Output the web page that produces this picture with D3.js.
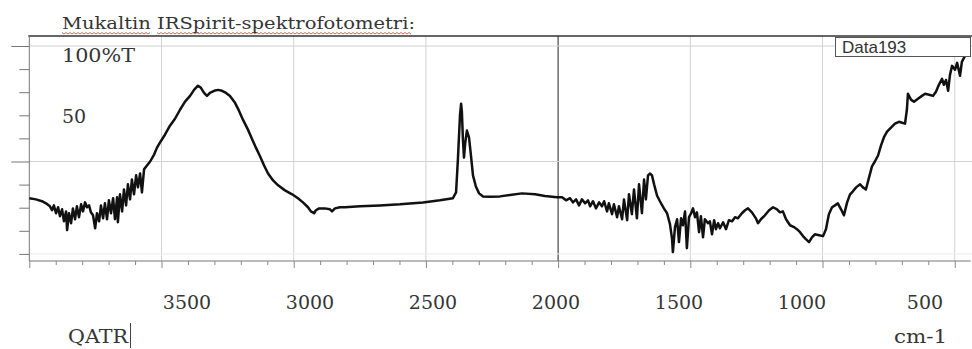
<!DOCTYPE html>
<html>
<head>
<meta charset="utf-8">
<script src="https://cdn.jsdelivr.net/npm/d3@7"></script>
<style>
  body { margin: 0; background: #fff; }
  svg { display: block; }
</style>
</head>
<body>
<svg id="chart" width="972" height="349"></svg>
<script>
// spectrum (cm-1 / %T)
const wavenumber = [
  4000,3975,3952,3937,3922,3914,3907,3899,3891,3884,3876,3869,3861,3857,3850,3842,3835,3827,3820,3812,
  3804,3797,3789,3782,3774,3767,3759,3751,3744,3736,3729,3721,3714,3706,3699,3691,3683,3676,3668,3665,
  3657,3649,3642,3634,3627,3619,3612,3604,3596,3589,3581,3574,3566,3555,3543,3528,3517,3506,3487,3468,
  3449,3430,3411,3392,3377,3362,3351,3339,3328,3317,3301,3286,3271,3256,3241,3222,3207,3192,3173,3158,
  3143,3127,3112,3097,3078,3059,3033,3006,2984,2965,2946,2935,2923,2916,2904,2882,2863,2855,2844,2825,
  2806,2749,2674,2598,2511,2447,2398,2386,2379,2371,2367,2364,2360,2356,2352,2345,2337,2330,2322,2311,
  2299,2284,2258,2220,2182,2137,2087,2050,2004,
  1985,1970,1955,1944,1932,1921,1910,1898,1887,1879,1868,1857,1845,1834,1826,1815,1808,1796,1789,1777,
  1770,1758,1751,1739,1732,1721,1713,1702,1694,1683,1675,1668,1660,1652,1645,1637,1626,1615,1600,1588,
  1577,1569,1566,1558,1550,1543,1535,1528,1520,1513,1505,1497,1490,1482,1475,1467,1460,1452,1445,1433,
  1426,1418,1410,1403,1395,1388,1376,1365,1354,1342,1331,1320,1305,1293,1282,1267,1252,1244,1233,1218,
  1202,1187,1172,1161,1150,1138,1123,1108,1097,1085,1074,1063,1051,1040,1029,1013,998,987,976,964,
  953,942,930,919,907,896,885,873,858,847,836,824,813,802,790,779,768,756,741,726,
  711,699,688,681,677,665,654,639,624,612,597,582,571,560,548,541,533,525,518,510,
  499,491,480,473,461,450,442
];
const transmittance = [
  34.1,33.6,32.8,31.9,30.6,28.9,31.0,27.6,30.2,26.3,29.3,24.1,28.4,20.3,27.6,23.3,29.7,25.0,30.6,25.9,
  31.5,28.4,32.3,30.2,31.0,28.0,26.7,21.1,27.6,24.1,31.0,25.4,31.9,25.0,33.2,27.6,34.1,25.0,34.5,23.7,
  35.8,28.4,37.9,31.0,40.1,33.6,42.2,35.8,44.0,38.8,44.8,36.6,46.6,48.3,50.0,53.0,56.0,58.2,61.6,65.5,
  68.5,72.4,75.9,78.4,81.0,82.8,81.9,79.7,78.4,79.7,80.6,81.0,80.6,79.7,78.4,75.4,72.0,68.1,63.8,59.9,
  56.0,52.2,48.3,44.8,41.8,39.7,37.5,35.8,34.1,32.3,30.2,28.4,27.6,28.9,29.7,29.7,29.3,28.4,29.7,30.2,
  30.2,30.6,31.0,31.5,32.3,33.2,34.1,36.6,50.9,70.3,75.0,71.6,59.5,51.7,57.3,63.4,60.4,53.0,44.0,39.2,
  36.2,34.9,34.7,34.9,35.5,36.2,35.8,35.1,34.5,
  34.5,33.2,34.1,32.3,33.6,31.0,33.6,31.9,33.2,30.6,32.8,29.7,32.3,30.6,32.8,28.4,31.9,27.2,31.5,25.9,
  30.6,25.0,33.6,24.6,35.8,27.2,37.9,25.4,40.1,27.6,42.2,33.6,44.0,44.8,44.0,40.1,35.3,32.8,29.7,27.6,
  22.9,16.4,10.8,21.6,25.0,15.1,25.4,22.4,28.4,12.5,25.9,27.6,29.7,25.9,28.0,19.4,26.3,17.2,25.0,23.3,
  24.1,18.5,24.6,20.7,23.3,21.1,23.7,20.7,24.6,24.1,25.9,25.4,27.6,28.9,29.7,28.0,25.4,23.3,25.0,26.7,
  28.9,30.2,29.3,28.0,28.4,25.0,22.4,21.6,20.7,19.4,17.7,16.4,15.1,17.2,18.5,18.1,17.7,20.7,27.2,30.2,
  31.0,31.9,29.3,26.7,32.3,35.8,37.1,38.8,40.1,38.8,37.9,43.1,47.9,50.0,52.6,56.9,60.4,62.9,64.7,66.4,
  67.2,66.8,66.4,72.4,79.3,76.7,75.9,77.2,78.4,79.3,78.9,78.4,80.2,83.2,85.8,83.2,85.3,80.6,87.5,91.4,
  89.7,92.7,87.1,93.1,95.7,97.0,97.8
];
const tickLabels = [3500, 3000, 2500, 2000, 1500, 1000, 500];
const gridWavenumbers = [3500, 3000, 2500, 2000, 1500, 1000, 500];
const gridPercent = [100, 50, 10];
const seriesName = 'Data193';
const title = 'Mukaltin IRSpirit-spektrofotometri:';

const spectrum = wavenumber.map((w, i) => ({ w, t: transmittance[i] }));

const svg = d3.select('#chart');
const area = { left: 29.3, right: 970.6, top: 36, bottom: 261 };

const x = d3.scaleLinear().domain([4000, 440]).range([area.left, area.right]);
const y = d3.scaleLinear().domain([0, 100]).range([277, 46]);
const labelX = d3.scalePoint().domain(tickLabels).range([187, 925]);

const serif = 'DejaVu Serif, Liberation Serif, serif';
const textColor = '#353535';

// grid
svg.append('g')
  .selectAll('line')
  .data(gridWavenumbers)
  .enter()
  .append('line')
  .attr('x1', d => x(d)).attr('x2', d => x(d))
  .attr('y1', area.top).attr('y2', area.bottom)
  .attr('stroke', d => d === 2000 ? '#555' : '#d2d2d2')
  .attr('stroke-width', d => d === 2000 ? 1.3 : 1)
  ;

svg.append('g')
  .selectAll('line')
  .data(gridPercent)
  .enter()
  .append('line')
  .attr('x1', area.left).attr('x2', 972)
  .attr('y1', d => y(d)).attr('y2', d => y(d))
  .attr('stroke', d => d === 10 ? '#ececec' : '#d2d2d2')
  ;

// frame top
svg.append('line')
  .attr('x1', area.left - 1).attr('x2', 972)
  .attr('y1', area.top).attr('y2', area.top)
  .attr('stroke', '#333').attr('stroke-width', 1.6);

// left axis
const yAxis = d3.axisLeft(y)
  .tickValues(d3.range(10, 101, 10))
  .tickSize(10)
  .tickFormat('');
const gy = svg.append('g')
  .attr('transform', `translate(${area.left},0)`)
  .call(yAxis);
gy.select('.domain').remove();
gy.selectAll('.tick line')
  .attr('stroke', '#777')
  .attr('x2', d => (d === 50 || d === 100) ? -18 : -10);
svg.append('line')
  .attr('x1', area.left).attr('x2', area.left)
  .attr('y1', area.top).attr('y2', area.bottom)
  .attr('stroke', '#777');

// bottom axis
const minorAxis = d3.axisBottom(x)
  .tickValues(d3.range(4000, 440, -100))
  .tickSize(4)
  .tickFormat('');
const gx = svg.append('g')
  .attr('transform', `translate(0,${area.bottom})`)
  .call(minorAxis);
gx.select('.domain').attr('d', `M${area.left},0H${area.right}`).attr('stroke', '#777');
gx.selectAll('.tick line')
  .attr('stroke', '#888')
  .attr('y2', d => d % 500 === 0 ? 7 : 4);

// spectrum line
const line = d3.line()
  .x(d => x(d.w))
  .y(d => y(d.t));

svg.append('path')
  .datum(spectrum)
  .attr('d', line)
  .attr('fill', 'none')
  .attr('stroke', '#111')
  .attr('stroke-width', 2.5)
  .attr('stroke-linejoin', 'round');

// legend box
const legend = svg.append('g');
legend.append('rect')
  .attr('x', 835.5).attr('y', 37.5)
  .attr('width', 135).attr('height', 19)
  .attr('fill', '#fff')
  .attr('stroke', '#555');
legend.append('text')
  .attr('x', 842).attr('y', 53)
  .attr('font-family', 'Liberation Sans, Arial, sans-serif')
  .attr('font-size', 17)
  .attr('fill', '#333')
  .text(seriesName);

// tick labels (typed under the image, so their own spacing)
svg.append('g')
  .selectAll('text')
  .data(tickLabels)
  .enter()
  .append('text')
  .attr('x', d => labelX(d))
  .attr('y', 309)
  .attr('text-anchor', 'middle')
  .attr('font-family', serif)
  .attr('font-size', 19)
  .attr('fill', textColor)
  .text(d => d);

// title and overlay texts
svg.append('text')
  .attr('x', 62).attr('y', 29)
  .attr('font-family', serif).attr('font-size', 17.5)
  .attr('fill', textColor)
  .attr('textLength', 353).attr('lengthAdjust', 'spacingAndGlyphs')
  .text(title);

const squiggle = (x0, x1, yy) => {
  let d = `M${x0},${yy}`;
  for (let xx = x0 + 2, k = 0; xx <= x1; xx += 2, k++) {
    d += `L${xx},${yy + (k % 2 ? 0 : 1.5)}`;
  }
  return d;
};
svg.append('g')
  .selectAll('path')
  .data([[62, 150], [157, 411]])
  .enter()
  .append('path')
  .attr('d', d => squiggle(d[0], d[1], 32.5))
  .attr('fill', 'none')
  .attr('stroke', '#e05050')
  .attr('stroke-width', 0.9);

svg.append('text')
  .attr('x', 62).attr('y', 62)
  .attr('font-family', serif).attr('font-size', 19)
  .attr('fill', textColor)
  .attr('textLength', 73).attr('lengthAdjust', 'spacingAndGlyphs')
  .text('100%T');

svg.append('text')
  .attr('x', 62).attr('y', 123)
  .attr('font-family', serif).attr('font-size', 19)
  .attr('fill', textColor)
  .text('50');

svg.append('text')
  .attr('x', 68).attr('y', 343)
  .attr('font-family', serif).attr('font-size', 19)
  .attr('fill', textColor)
  .attr('textLength', 60).attr('lengthAdjust', 'spacingAndGlyphs')
  .text('QATR');
svg.append('line')
  .attr('x1', 130.5).attr('x2', 130.5)
  .attr('y1', 323).attr('y2', 348)
  .attr('stroke', '#444');

svg.append('text')
  .attr('x', 894).attr('y', 343)
  .attr('font-family', serif).attr('font-size', 19)
  .attr('fill', textColor)
  .attr('textLength', 53).attr('lengthAdjust', 'spacingAndGlyphs')
  .text('cm-1');
</script>
</body>
</html>
